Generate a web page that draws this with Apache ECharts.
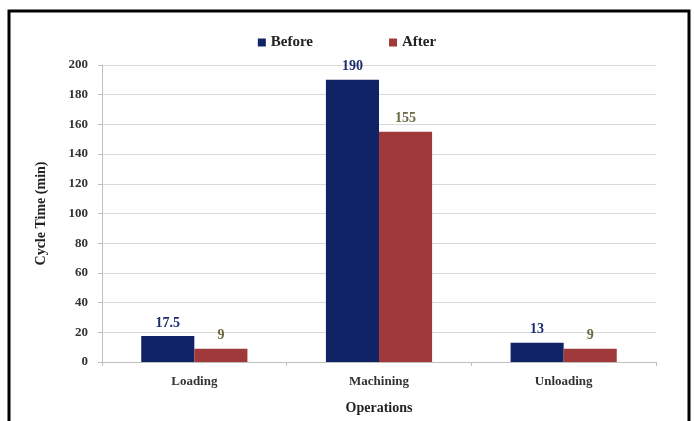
<!DOCTYPE html>
<html>
<head>
<meta charset="utf-8">
<style>
  html, body { margin: 0; padding: 0; background: #fff; }
  #chart { width: 694px; height: 421px; }
</style>
<script src="https://cdn.jsdelivr.net/npm/echarts@6/dist/echarts.min.js"></script>
</head>
<body>
<div id="chart"></div>
<script>
const categories = ["Loading", "Machining", "Unloading"];
const beforeValues = [17.5, 190, 13];
const afterValues = [9, 155, 9];

const font = "Liberation Serif";

const chart = echarts.init(document.getElementById("chart"));

chart.setOption({
  backgroundColor: "#fff",
  textStyle: { fontFamily: font },
  graphic: [
    {
      type: "rect",
      shape: { x: 9, y: 11, width: 680, height: 430 },
      style: { fill: "none", stroke: "#000", lineWidth: 3 },
      silent: true,
    },
  ],
  legend: {
    top: 30,
    left: "center",
    icon: "rect",
    itemWidth: 8,
    itemHeight: 8,
    itemGap: 76,
    textStyle: { fontFamily: font, fontWeight: "bold", fontSize: 15, color: "#222" },
    data: ["Before", "After"],
  },
  grid: {
    left: 102,
    right: 38,
    top: 65,
    bottom: 59,
  },
  xAxis: {
    type: "category",
    data: categories,
    name: "Operations",
    nameLocation: "middle",
    nameGap: 39,
    nameTextStyle: { fontFamily: font, fontWeight: "bold", fontSize: 14, color: "#222" },
    axisLine: { lineStyle: { color: "#bfbfbf" } },
    axisTick: { show: true, length: 4, lineStyle: { color: "#bfbfbf" } },
    axisLabel: { fontFamily: font, fontWeight: "bold", fontSize: 13, color: "#333", margin: 13 },
  },
  yAxis: {
    type: "value",
    min: 0,
    max: 200,
    interval: 20,
    name: "Cycle Time (min)",
    nameLocation: "middle",
    nameGap: 54,
    nameTextStyle: { fontFamily: font, fontWeight: "bold", fontSize: 14, color: "#222" },
    axisLine: { show: true, lineStyle: { color: "#bfbfbf" } },
    axisTick: { show: true, length: 4, lineStyle: { color: "#bfbfbf" } },
    axisLabel: { fontFamily: font, fontWeight: "bold", fontSize: 13, color: "#333", margin: 14 },
    splitLine: { lineStyle: { color: "#d9d9d9" } },
  },
  series: [
    {
      name: "Before",
      type: "bar",
      data: beforeValues,
      barGap: "0%",
      barCategoryGap: "42.5%",
      itemStyle: { color: "#0f2366" },
      label: {
        show: true,
        position: "top",
        distance: 6,
        fontFamily: font,
        fontWeight: "bold",
        fontSize: 14,
        color: "#1c2d6e",
      },
    },
    {
      name: "After",
      type: "bar",
      data: afterValues,
      itemStyle: { color: "#a03a3a" },
      label: {
        show: true,
        position: "top",
        distance: 6,
        fontFamily: font,
        fontWeight: "bold",
        fontSize: 14,
        color: "#6b6a45",
      },
    },
  ],
});
</script>
</body>
</html>
